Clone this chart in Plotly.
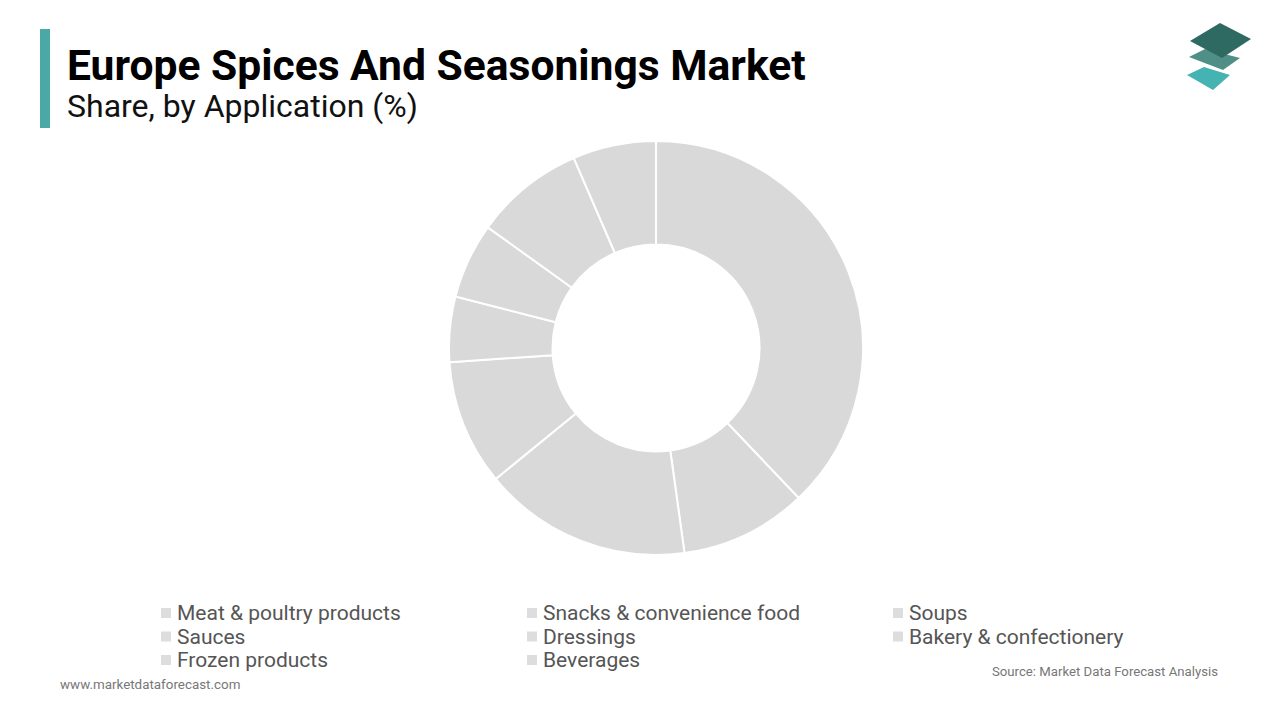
import plotly.graph_objects as go

categories = ["Meat & poultry products", "Snacks & convenience food", "Soups",
              "Sauces", "Dressings", "Bakery & confectionery",
              "Frozen products", "Beverages"]
shares = [37.9, 9.9, 16.3, 9.8, 5.1, 5.9, 8.6, 6.5]

title_text = "Europe Spices And Seasonings Market"
subtitle_text = "Share, by Application (%)"
source_text = "Source: Market Data Forecast Analysis"
site_text = "www.marketdataforecast.com"

W, H = 1280, 720
OFF = 8  # page body margin in the browser
SLICE_COLOR = "#d9d9d9"

def px(x):
    return (x - OFF) / W

def py(y):
    return 1 - (y - OFF) / H

fig = go.Figure()
fig.add_trace(go.Pie(
    labels=categories,
    values=shares,
    sort=False,
    direction="clockwise",
    rotation=0,
    hole=0.5,
    marker=dict(colors=[SLICE_COLOR] * len(categories), line=dict(color="white", width=2)),
    textinfo="none",
    hoverinfo="label+percent",
    showlegend=False,
    domain=dict(x=[px(656 - 207), px(656 + 207)], y=[py(555), py(141)]),
))

heading = ("<span style='font-size:42.6px;color:#000000'><b>" + title_text + "</b></span><br>"
           "<span style='font-size:32px;color:#111111'>" + subtitle_text + "</span>")

annotations = [
    dict(text=heading, x=px(65), y=py(83), xanchor="left", yanchor="middle", align="left",
         font=dict(family="Roboto", size=28.5, color="#111111")),
    dict(text=source_text, x=px(1220), y=py(671), xanchor="right", yanchor="middle",
         font=dict(family="Roboto", size=13.2, color="#777777")),
    dict(text=site_text, x=px(58), y=py(684), xanchor="left", yanchor="middle",
         font=dict(family="Roboto", size=13.4, color="#777777")),
]

shapes = [
    dict(type="rect", xref="paper", yref="paper", x0=px(40), x1=px(50), y0=py(128), y1=py(29),
         fillcolor="#4aa8a6", line=dict(width=0)),
]

# legend (manual, 3 columns)
for i, name in enumerate(categories):
    col, row = i % 3, i // 3
    x0 = 161 + col * 366
    yc = 613 + row * 23.5
    shapes.append(dict(type="rect", xref="paper", yref="paper",
                       x0=px(x0), x1=px(x0 + 10), y0=py(yc + 5), y1=py(yc - 5),
                       fillcolor="#dddddd", line=dict(width=0)))
    annotations.append(dict(text=name, x=px(x0 + 14), y=py(yc), xanchor="left", yanchor="middle",
                            font=dict(family="Roboto", size=21, color="#555555")))

# logo (three stacked tiles)
def poly(pts, color):
    d = "M " + " L ".join(f"{px(x)},{py(y)}" for x, y in pts) + " Z"
    return dict(type="path", xref="paper", yref="paper", path=d, fillcolor=color, line=dict(width=0))

shapes.append(poly([(1187, 75), (1204, 67), (1230, 75), (1213, 90)], "#45b3b1"))
shapes.append(poly([(1189, 57), (1205, 49), (1240, 58), (1223, 70)], "#4f8f87"))
shapes.append(poly([(1190, 41), (1220, 23), (1251, 39), (1222, 58)], "#2e6a62"))

for a in annotations:
    a.setdefault("xref", "paper")
    a.setdefault("yref", "paper")
    a.setdefault("showarrow", False)

fig.update_layout(
    width=W, height=H,
    margin=dict(l=0, r=0, t=0, b=0),
    paper_bgcolor="white", plot_bgcolor="white",
    annotations=annotations, shapes=shapes,
    showlegend=False,
)

fig.write_html("out.html")
